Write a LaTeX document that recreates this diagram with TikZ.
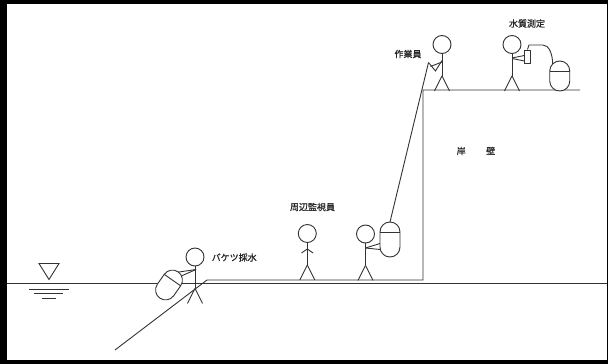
\documentclass[tikz,border=0pt]{standalone}
\usepackage{fontspec}
\newfontfamily\jp[FakeBold=0.8]{Noto Sans CJK JP}
\begin{document}
\begin{tikzpicture}[x=1pt,y=-1pt,
  ln/.style={draw=black!80,line width=0.9pt},
  lbl/.style={font=\jp\fontsize{9}{10}\selectfont,text=black!85,inner sep=0pt},
  bucketbody/.style={ln,fill=white,rounded corners=9.99pt},
  head/.style={ln,circle,minimum size=18pt,inner sep=0pt}]
% frame
\fill[black] (0,0) rectangle (608,364);
\fill[white] (6.5,4) rectangle (607,360);
\useasboundingbox (0,0) rectangle (608,364);

% water surface mark
\coordinate (tA) at (39,263.5);
\coordinate (tB) at (59,263.5);
\coordinate (tC) at (49,279.5);
\draw[ln] (tA) -- (tB) -- (tC) -- cycle;
\draw[ln] (29,289) -- (69,289);
\draw[ln] (34,293.5) -- (63,293.5);
\draw[ln] (42,298.5) -- (56,298.5);

% water line and quay profile
\coordinate (wL) at (7,283);
\coordinate (wR) at (607,283);
\draw[ln] (wL) -- (wR);
\coordinate (slopeFoot) at (115,350);
\coordinate (slopeTop) at (207,280);
\coordinate (wallFoot) at (423,280);
\coordinate (wallTop) at (423,90);
\coordinate (deckEnd) at (580,90);
\draw[ln] (slopeFoot) -- (slopeTop) -- (wallFoot) -- (wallTop) -- (deckEnd);

% stick figures: head node, body, legs
\newcommand\stickfig[3]{% name, x, y of head centre
  \node[head] (#1) at (#2,#3) {};
  \draw[ln] (#1.south) -- ++(0,22) coordinate (#1hip);
  \draw[ln] (#1hip) -- ++(-7.5,15);
  \draw[ln] (#1hip) -- ++(7.5,15);
}
\stickfig{pA}{195}{257}
\stickfig{pB}{365.5}{234}
\stickfig{pC}{307.3}{233.5}
\stickfig{pD}{442}{44.5}
\stickfig{pE}{512}{44.5}

% bucket drawn upright in local coordinates (dome at the top)
\newcommand\bucketshape[5]{% name, x, y, rotation, length
  \begin{scope}[shift={(#2,#3)},rotate=#4]
    \draw[bucketbody] (-10,-#5/2) rectangle (10,#5/2);
    \draw[ln] (-10,-#5/2+10) -- (10,-#5/2+10);
    \coordinate (#1top) at (0,-#5/2);
    \coordinate (#1dome) at (-7.07,-#5/2+2.93);
    \coordinate (#1a1) at (0,-#5/2+0.3);
    \coordinate (#1a2) at (5,-#5/2+1.4);
  \end{scope}
}
\bucketshape{bA}{169}{285}{-35}{32}
\bucketshape{bB}{390}{239.5}{0}{35}
\bucketshape{bC}{559.75}{76}{0}{30}

% bucket sampler
\coordinate (pAsh) at (196,269.5);
\draw[ln] (pAsh) -- (bAa1);
\draw[ln] (pAsh) -- (bAa2);

% worker holding bucket
\coordinate (pBsh) at (365.5,248);
\draw[ln] (pBsh) -- (380,243.5);
\draw[ln] (pBsh) -- (380,249.5);

% observer
\coordinate (pCsh) at (307.3,249);
\draw[ln] (pCsh) -- ++(-5.8,4);
\draw[ln] (pCsh) -- ++(5.8,4);

% worker on top with rope
\coordinate (hand) at (428.5,62.5);
\draw[ln] (442,60.5) -- (435.5,71) -- (hand);
\draw[ln] (442,62) -- (430.5,66.5);
\draw[ln] (bBtop) -- (hand);

% water quality meter and cable
\node[ln,minimum width=6.5pt,minimum height=13pt,inner sep=0pt] (meter) at (527.5,56.5) {};
\coordinate (grip1) at (524.25,55.5);
\coordinate (grip2) at (524.25,61);
\draw[ln] (512,58) -- (grip1);
\draw[ln] (512,58.5) -- (grip2);
\draw[ln] (meter.north) -- (529,45) -- (543,45)
  .. controls (549,45) and (552.5,54) .. (bCdome);

% labels
\node[lbl,anchor=west] (lA) at (211.5,257.5) {バケツ採水};
\node[lbl] (lC) at (312.5,207) {周辺監視員};
\node[lbl] (lD) at (408,54) {作業員};
\node[lbl] (lE) at (527,23.5) {水質測定};
\node[lbl] (lW) at (476,151) {岸\hspace{20.5pt}壁};
\end{tikzpicture}
\end{document}
